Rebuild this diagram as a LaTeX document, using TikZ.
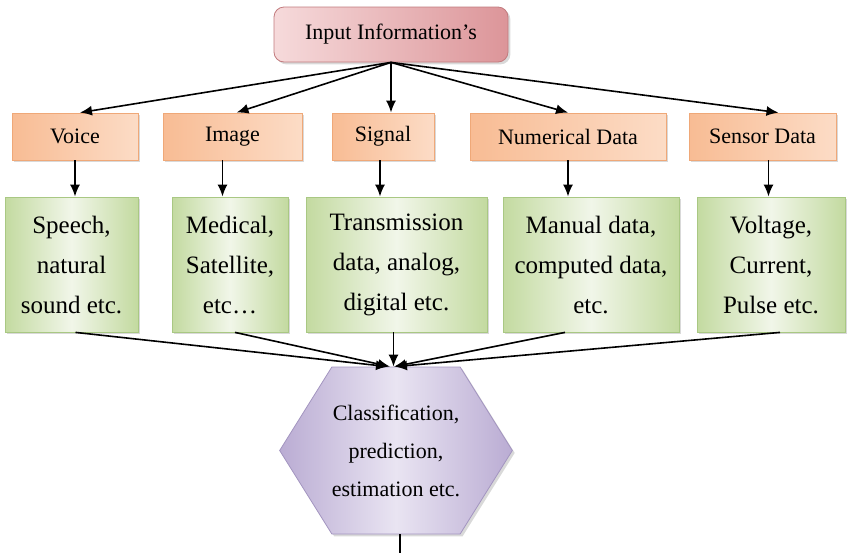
\documentclass[tikz,border=0pt]{standalone}
\usepackage{fontspec}
\setmainfont{Liberation Serif}
\usetikzlibrary{arrows.meta,shapes.symbols,shadows,calc}

\definecolor{pinkdark}{HTML}{DC9599}
\definecolor{pinklight}{HTML}{F6DADB}
\definecolor{pinkline}{HTML}{C27B7E}
\definecolor{orangedark}{HTML}{F8BC94}
\definecolor{orangelight}{HTML}{FCDCC6}
\definecolor{orangeline}{HTML}{EFA878}
\definecolor{greendark}{HTML}{C3DAA0}
\definecolor{greenlight}{HTML}{F1F6E9}
\definecolor{greenline}{HTML}{A9C883}
\definecolor{purpledark}{HTML}{BAACD3}
\definecolor{purplelight}{HTML}{E9E4F2}
\definecolor{purpleline}{HTML}{A395C0}

\begin{document}
\begin{tikzpicture}[
  x=0.5pt, y=-0.5pt,
  softshadow/.style={drop shadow={shadow xshift=1.2pt, shadow yshift=-1.2pt, opacity=0.3}},
  head/.style={draw=pinkline, rounded corners=5pt, softshadow, left color=pinklight, right color=pinkdark,
    minimum width=117pt, minimum height=27.5pt, font=\rmfamily\fontsize{11pt}{13pt}\selectfont},
  kind/.style={draw=orangeline, softshadow, left color=orangedark, right color=orangelight,
    minimum height=23.5pt, inner sep=0pt, font=\rmfamily\fontsize{11pt}{13pt}\selectfont},
  detail/.style={draw=greenline, softshadow, left color=greendark, right color=greendark, middle color=greenlight,
    minimum height=67.5pt, inner sep=0pt, align=center, font=\rmfamily\fontsize{12.5pt}{20pt}\selectfont},
  task/.style={signal, signal to=west and east, signal pointer angle=116, draw=purpleline, softshadow,
    left color=purpledark, right color=purpledark, middle color=purplelight,
    minimum width=116pt, minimum height=83.5pt, inner sep=0pt, align=center,
    font=\rmfamily\fontsize{11pt}{19pt}\selectfont},
  arr/.style={-{Latex[length=6pt,width=5pt]}, line width=0.8pt}
]
\useasboundingbox (0,0) rectangle (848,553);

% top
\node[head] (info) at (391,34.5) {Input Information’s};

% kinds of input
\node[kind, minimum width=63pt] (voice) at (75,136.5) {Voice};
\node[kind, minimum width=69.5pt] (image) at (232.5,136.5) {Image};
\node[kind, minimum width=51pt] (signal) at (383,136.5) {Signal};
\node[kind, minimum width=98pt] (numer) at (568,136.5) {Numerical Data};
\node[kind, minimum width=73.5pt] (sensor) at (762.5,136.5) {Sensor Data};

% examples
\node[detail, minimum width=66.5pt] (speech) at (71.5,264.5) {Speech,\\natural\\sound etc.};
\node[detail, minimum width=58pt] (medical) at (230,264.5) {Medical,\\Satellite,\\etc…};
\node[detail, minimum width=90.5pt] (trans) at (396.5,264.5) {Transmission\\data, analog,\\digital etc.};
\node[detail, minimum width=88pt] (manual) at (591,264.5) {Manual data,\\computed data,\\etc.};
\node[detail, minimum width=74pt] (volt) at (771,264.5) {Voltage,\\Current,\\Pulse etc.};

% result
\node[task] (cls) at (396,450.5) {Classification,\\prediction,\\estimation etc.};
\coordinate (out) at (400,553);

\draw[arr] (info.south) -- ([xshift=2.5pt]voice.north);
\draw[arr] (info.south) -- ([xshift=2pt]image.north);
\draw[arr] (info.south) -- (info.south |- signal.north);
\draw[arr] (info.south) -- (numer.north);
\draw[arr] (info.south) -- ([xshift=8pt]sensor.north);

\draw[arr] (voice.south) -- (voice.south |- speech.north);
\draw[arr] ([xshift=-5pt]image.south) -- ([xshift=-5pt]image.south |- medical.north);
\draw[arr] ([xshift=-1.5pt]signal.south) -- ([xshift=-1.5pt]signal.south |- trans.north);
\draw[arr] (numer.south) -- (numer.south |- manual.north);
\draw[arr] ([xshift=3pt]sensor.south) -- ([xshift=3pt]sensor.south |- volt.north);

\draw[arr] ([xshift=2pt]speech.south) -- ([xshift=-4pt]cls.north);
\draw[arr] ([xshift=2.5pt]medical.south) -- ([xshift=-3pt]cls.north);
\draw[arr] ([xshift=-1.5pt]trans.south) -- ([xshift=-1.5pt]trans.south |- cls.north);
\draw[arr] ([xshift=-13pt]manual.south) -- ([xshift=-1pt]cls.north);
\draw[arr] ([xshift=4.5pt]volt.south) -- ([xshift=-0.5pt]cls.north);

\draw[line width=0.8pt] ([xshift=2pt]cls.south) -- (out);
\end{tikzpicture}
\end{document}
